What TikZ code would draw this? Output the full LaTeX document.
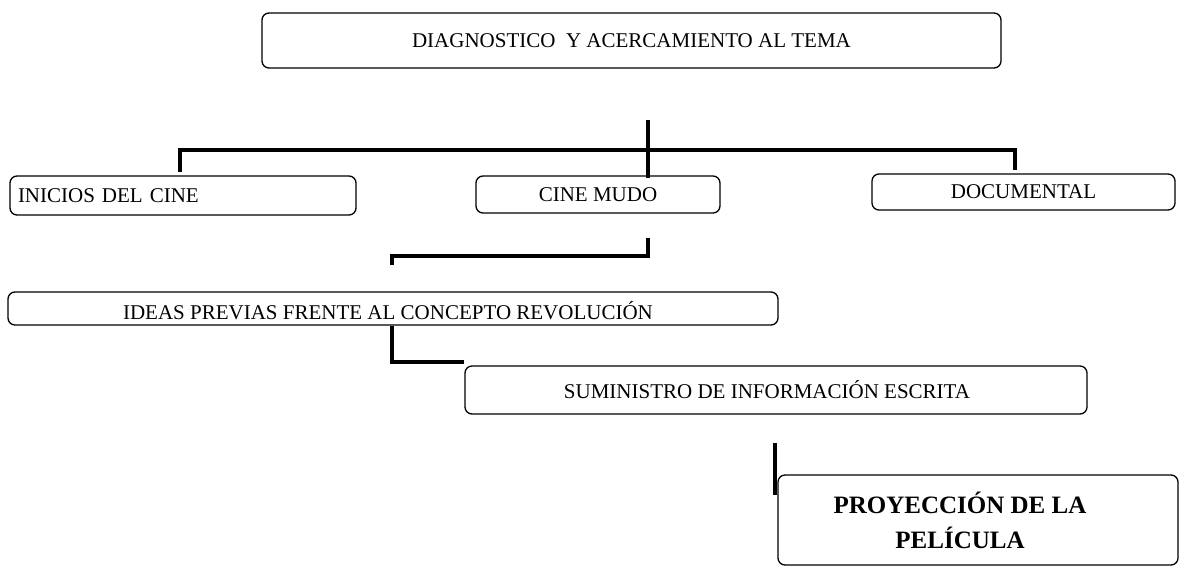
\documentclass[tikz,border=0pt]{standalone}
\usepackage{fontspec}
\setmainfont{Liberation Serif}
\begin{document}
\begin{tikzpicture}[x=1pt,y=-1pt,
  box/.style={draw,line width=1.3pt,rounded corners=7pt,inner sep=0pt,font=\fontsize{21}{24}\selectfont},
  conn/.style={line width=3.5pt}]
\useasboundingbox (0,0) rectangle (1180,565);
\node[box,minimum width=739pt,minimum height=55pt] (top) at (631.5,40.5) {DIAGNOSTICO\ \ Y ACERCAMIENTO AL TEMA};
\node[box,minimum width=346pt,minimum height=39pt,text width=330pt,align=left] (ini) at (183,195.5) {INICIOS DEL CINE};
\node[box,minimum width=244pt,minimum height=37pt] (mudo) at (598,194.5) {CINE MUDO};
\node[box,minimum width=303pt,minimum height=36pt] (doc) at (1023.5,192) {DOCUMENTAL};
\node[box,minimum width=770pt,minimum height=33pt] (ideas) at (393,308.5) {};
\node (ideast) at (388,311) {\fontsize{21}{24}\selectfont IDEAS PREVIAS FRENTE AL CONCEPTO REVOLUCIÓN};
\node[box,minimum width=622pt,minimum height=48pt] (sum) at (776,390) {\hspace*{-18pt}SUMINISTRO DE INFORMACIÓN ESCRITA};
\node[box,minimum width=400pt,minimum height=90pt,align=center,font=\fontsize{25}{35}\selectfont\bfseries] (proy) at (978,520) {\hspace*{-36pt}PROYECCIÓN DE LA\\\hspace*{-36pt}PELÍCULA};
% connectors
\coordinate (c1) at (648,120);
\coordinate (c2) at (648,178);
\coordinate (cl) at (180,172);
\coordinate (cr) at (1015,170);
\draw[conn] (c1) -- (c2);
\draw[conn] (cl) -- (180,150) -- (1015,150) -- (cr);
\coordinate (m1) at (648,238);
\coordinate (m2) at (392,265);
\draw[conn] (m1) -- (648,256) -- (392,256) -- (m2);
\draw[conn] (ideas.south -| 392,0) -- (392,362) -- (sum.west |- 0,362);
\coordinate (p1) at (775,443);
\coordinate (p2) at (775,495);
\draw[conn] (p1) -- (p2);
\end{tikzpicture}
\end{document}
